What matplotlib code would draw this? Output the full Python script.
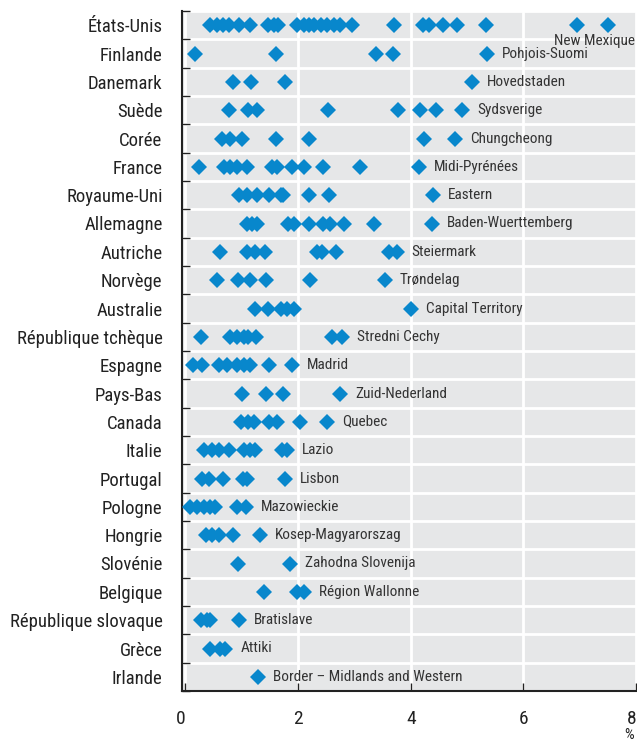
import matplotlib
matplotlib.use("Agg")
import matplotlib.pyplot as plt
from matplotlib.ticker import FixedLocator
from matplotlib import font_manager as fm

countries = ["États-Unis", "Finlande", "Danemark", "Suède", "Corée", "France",
             "Royaume-Uni", "Allemagne", "Autriche", "Norvège", "Australie",
             "République tchèque", "Espagne", "Pays-Bas", "Canada", "Italie",
             "Portugal", "Pologne", "Hongrie", "Slovénie", "Belgique",
             "République slovaque", "Grèce", "Irlande"]

values = [
    [0.43, 0.56, 0.67, 0.77, 0.96, 1.15, 1.46, 1.57, 1.64, 1.98, 2.10, 2.19, 2.28,
     2.40, 2.51, 2.63, 2.75, 2.96, 3.71, 4.22, 4.32, 4.58, 4.82, 5.33, 6.95, 7.51],
    [0.17, 1.61, 3.39, 3.68, 5.36],
    [0.84, 1.17, 1.76, 5.08],
    [0.77, 1.12, 1.28, 2.54, 3.78, 4.16, 4.45, 4.91],
    [0.65, 0.79, 1.01, 1.60, 2.19, 4.23, 4.78],
    [0.24, 0.68, 0.80, 0.92, 1.10, 1.54, 1.63, 1.89, 2.10, 2.44, 3.10, 4.14],
    [0.95, 1.10, 1.27, 1.48, 1.69, 1.74, 2.19, 2.55, 4.40],
    [1.10, 1.18, 1.27, 1.83, 1.92, 2.19, 2.45, 2.57, 2.81, 3.35, 4.38],
    [0.62, 1.10, 1.24, 1.41, 2.34, 2.43, 2.67, 3.61, 3.75],
    [0.56, 0.93, 1.14, 1.44, 2.22, 3.54],
    [1.24, 1.46, 1.69, 1.80, 1.92, 4.01],
    [0.27, 0.79, 0.92, 1.04, 1.12, 1.26, 2.60, 2.78],
    [0.14, 0.30, 0.59, 0.74, 0.92, 1.04, 1.15, 1.48, 1.89],
    [1.01, 1.44, 1.73, 2.75],
    [0.98, 1.12, 1.21, 1.48, 1.63, 2.03, 2.51],
    [0.33, 0.47, 0.59, 0.77, 1.04, 1.15, 1.24, 1.72, 1.80],
    [0.30, 0.42, 0.67, 1.02, 1.10, 1.77],
    [0.09, 0.21, 0.33, 0.44, 0.53, 0.92, 1.08],
    [0.36, 0.47, 0.59, 0.85, 1.33],
    [0.94, 1.86],
    [1.39, 1.98, 2.11],
    [0.27, 0.39, 0.44, 0.95],
    [0.44, 0.62, 0.71],
    [1.29],
]

regions = ["New Mexique", "Pohjois-Suomi", "Hovedstaden", "Sydsverige", "Chungcheong",
           "Midi-Pyrénées", "Eastern", "Baden-Wuerttemberg", "Steiermark", "Trøndelag",
           "Capital Territory", "Stredni Cechy", "Madrid", "Zuid-Nederland", "Quebec",
           "Lazio", "Lisbon", "Mazowieckie", "Kosep-Magyarorszag", "Zahodna Slovenija",
           "Région Wallonne", "Bratislave", "Attiki", "Border – Midlands and Western"]

xticks = [0, 2, 4, 6, 8]

available = set(f.name for f in fm.fontManager.ttflist)
main_font = next((f for f in ["Roboto Condensed", "Liberation Sans Narrow", "Archivo Narrow",
                              "Barlow Semi Condensed", "DejaVu Sans"] if f in available),
                 "DejaVu Sans")
FONT = [main_font, "DejaVu Sans"]
BLUE = "#0887cc"
BG = "#e6e7e8"
DARK = "#222222"

fig = plt.figure(figsize=(6.37, 7.45), dpi=100)
ax = fig.add_axes([182/637, 54/745, (636-182)/637, (691-11)/745])
ax.set_facecolor(BG)

n = len(countries)
for i, (vals, reg) in enumerate(zip(values, regions)):
    ax.plot(vals, [i]*len(vals), linestyle="none", marker="D", markersize=8,
            color=BLUE, markeredgewidth=0, zorder=3)
    if i == 0:
        ax.annotate(reg, xy=(max(vals), i), xytext=(27, -16), textcoords="offset pixels",
                    ha="right", va="center", fontsize=11, family=FONT, color="#333333")
    else:
        ax.annotate(reg, xy=(max(vals), i), xytext=(15, 0), textcoords="offset pixels",
                    ha="left", va="center", fontsize=11, family=FONT, color="#333333")

ax.set_xlim(-0.06, 8)
ax.set_ylim(n - 0.5, -0.5)

ax.set_xticks(xticks)
ax.set_xticklabels([str(t) for t in xticks], family=FONT, fontsize=14, color=DARK)
xl = ax.get_xticklabels()
xl[0].set_horizontalalignment("right")
xl[-1].set_horizontalalignment("right")
ax.set_yticks(range(n))
ax.set_yticklabels(countries, family=FONT, fontsize=13.5, color=DARK)
ax.yaxis.set_minor_locator(FixedLocator([i + 0.5 for i in range(-1, n)]))

ax.tick_params(axis="y", which="major", length=0, pad=14)
ax.tick_params(axis="y", which="minor", direction="in", length=6, width=1, color=DARK)
ax.tick_params(axis="x", which="major", direction="in", length=6, width=1, color=DARK, pad=14)

ax.grid(axis="x", which="major", color="white", linewidth=2, zorder=1)
ax.grid(axis="y", which="minor", color="white", linewidth=2, zorder=1)
ax.set_axisbelow(True)

for s in ["top", "right"]:
    ax.spines[s].set_visible(False)
for s in ["left", "bottom"]:
    ax.spines[s].set_color(DARK)
    ax.spines[s].set_linewidth(1.5)

fig.text(629/637, 1 - 735/745, "%", ha="center", va="center", family=FONT,
         fontsize=11, color=DARK)

fig.savefig("out.png", dpi=100)
